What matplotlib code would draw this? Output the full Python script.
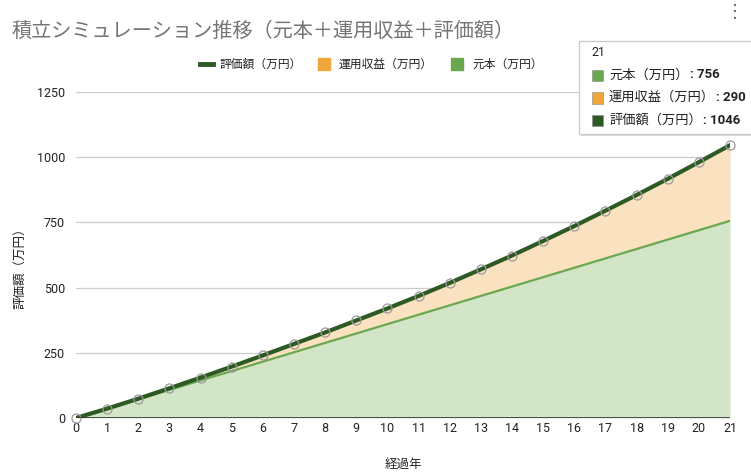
import matplotlib
matplotlib.use("Agg")
import matplotlib.pyplot as plt
from matplotlib.patches import Rectangle, FancyBboxPatch
from matplotlib.lines import Line2D

plt.rcParams['font.family'] = ['Roboto', 'Noto Sans CJK JP', 'DejaVu Sans']

years = list(range(0, 22))
principal = [0, 36, 72, 108, 144, 180, 216, 252, 288, 324, 360, 396, 432, 468,
             504, 540, 576, 612, 648, 684, 720, 756]
total = [0, 36, 74, 114, 155, 197, 240, 284, 328, 374, 420, 468, 518, 570,
         623, 679, 736, 795, 855, 917, 981, 1046]
gain = [t - p for t, p in zip(total, principal)]

title = "積立シミュレーション推移（元本＋運用収益＋評価額）"
label_total = "評価額（万円）"
label_gain = "運用収益（万円）"
label_principal = "元本（万円）"
xlabel = "経過年"
ylabel = "評価額（万円）"
yticks = [0, 250, 500, 750, 1000, 1250]

c_principal = "#6aa84f"
c_principal_fill = "#d2e5c6"
c_gain = "#f1a63c"
c_gain_fill = "#fae2c1"
c_total = "#2d5a23"

W, H = 751, 475
fig = plt.figure(figsize=(W / 100, H / 100), dpi=100)
ax = fig.add_axes([76 / W, 1 - 418 / H, (730 - 76) / W, (418 - 92) / H])

ax.fill_between(years, 0, principal, color=c_principal_fill, lw=0, zorder=1)
top = [p + g for p, g in zip(principal, gain)]
ax.fill_between(years, principal, top, color=c_gain_fill, lw=0, zorder=1)
ax.plot(years, principal, color=c_principal, lw=1.6, zorder=3)
ax.plot(years, total, color=c_total, lw=3, zorder=4)
ax.plot(years, total, ls='none', marker='o', ms=6.5, mfc='none', mec='#9a9a9a',
        mew=0.9, zorder=5, clip_on=False)

ax.set_xlim(0, 21)
ax.set_ylim(0, 1250)
ax.set_yticks(yticks)
ax.set_xticks(years)
for y in yticks[1:]:
    ax.axhline(y, color='#cccccc', lw=0.9, zorder=0.5)
ax.axhline(0, color='#333333', lw=1.2, zorder=6)
for s in ax.spines.values():
    s.set_visible(False)
ax.tick_params(axis='both', length=0, labelsize=9, colors='#222222')
ax.tick_params(axis='y', pad=8)
ax.tick_params(axis='x', pad=3)
ax.set_xlabel(xlabel, fontsize=9, color='#222222', labelpad=16)
ax.set_ylabel(ylabel, fontsize=9, color='#222222')
ax.yaxis.set_label_coords((26 - 76) / (730 - 76), (418 - 265) / (418 - 92))

fig.text(12 / W, 1 - 31 / H, title, fontsize=14.5, color='#757575', va='center', ha='left')
fig.text(735 / W, 1 - 12 / H, "⋮", fontsize=13, color='#666666', va='center', ha='center',
         family=['DejaVu Sans'])

# legend
ly = 1 - 64 / H
fig.add_artist(Line2D([200 / W, 213 / W], [ly, ly], color=c_total, lw=3.5, transform=fig.transFigure))
fig.text(220 / W, ly, label_total, fontsize=8.5, color='#222222', va='center')
fig.add_artist(Rectangle((318 / W, ly - 6 / H), 12 / W, 12 / H, color=c_gain, transform=fig.transFigure))
fig.text(339 / W, ly, label_gain, fontsize=8.5, color='#222222', va='center')
fig.add_artist(Rectangle((451 / W, ly - 6 / H), 12 / W, 12 / H, color=c_principal, transform=fig.transFigure))
fig.text(472 / W, ly, label_principal, fontsize=8.5, color='#222222', va='center')

# tooltip
box = FancyBboxPatch((579 / W, 1 - 134 / H), 180 / W, 93 / H, boxstyle="square,pad=0",
                     facecolor='white', edgecolor='#cccccc', lw=1, transform=fig.transFigure, zorder=10)
shadow = FancyBboxPatch((581 / W, 1 - 136 / H), 180 / W, 93 / H, boxstyle="square,pad=0",
                        facecolor='#dddddd', edgecolor='none', transform=fig.transFigure, zorder=9)
fig.add_artist(shadow)
fig.add_artist(box)
fig.text(591 / W, 1 - 53 / H, str(years[-1]), fontsize=9, color='#222222', va='center', zorder=11)
rows = [(c_principal, label_principal, principal[-1]),
        (c_gain, label_gain, gain[-1]),
        (c_total, label_total, total[-1])]
for i, (c, lab, v) in enumerate(rows):
    yy = 1 - (75 + i * 22.5) / H
    fig.add_artist(Rectangle((592 / W, yy - 6 / H), 11 / W, 11 / H, facecolor=c,
                             edgecolor='#888888', lw=0.4, transform=fig.transFigure, zorder=11))
    t = fig.text(609 / W, yy, lab, fontsize=9.5, color='#222222', va='center', zorder=11)
    fig.canvas.draw()
    bb = t.get_window_extent()
    fig.text(bb.x1 / W + 1 / W, yy, ": " + str(v), fontsize=9.5, color='#222222',
             va='center', weight='bold', zorder=11)

fig.savefig("out.png", dpi=100)
